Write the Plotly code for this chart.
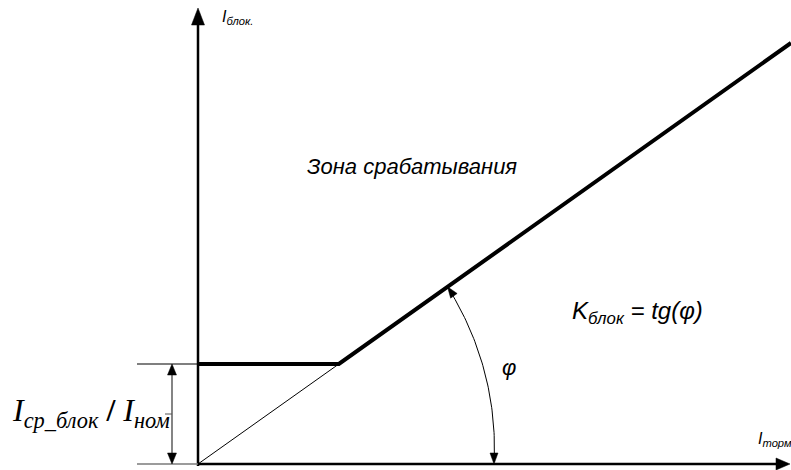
import numpy as np
import plotly.graph_objects as go

# Characteristic parameters (relative units)
pickup = 1.0          # I_ср_блок / I_ном
k_block = 0.71        # K_блок = tg(phi)
x_end = 5.93          # right end of the I_торм axis
x_break = pickup / k_block

# Axis extents (100 px per unit on both axes)
x_range = [-1.98, 5.93]
y_range = [-0.06, 4.64]

BLACK = "#000000"
GRAY = "#7a7a7a"

fig = go.Figure()


def line(xs, ys, width, color=BLACK):
    fig.add_trace(go.Scatter(x=xs, y=ys, mode="lines", hoverinfo="skip",
                             line=dict(color=color, width=width), showlegend=False))


def head(tip, direction, length, half_width, color=BLACK):
    """Filled triangular arrowhead with its tip at `tip` pointing along `direction`."""
    d = np.array(direction, float)
    d /= np.linalg.norm(d)
    n = np.array([-d[1], d[0]])
    t = np.array(tip, float)
    b = t - d * length
    p1, p2 = b + n * half_width, b - n * half_width
    fig.add_trace(go.Scatter(x=[t[0], p1[0], p2[0], t[0]], y=[t[1], p1[1], p2[1], t[1]],
                             mode="lines", fill="toself", fillcolor=color, hoverinfo="skip",
                             line=dict(color=color, width=0.5), showlegend=False))


# Coordinate axes with arrows
line([0, 0], [-0.02, 4.42], 2.5)
head((0, y_range[1] - 0.08), (0, 1), 0.17, 0.065)
line([0, x_end - 0.1], [0, 0], 2.5)
head((x_end - 0.01, 0), (1, 0), 0.14, 0.06)

# Thin ray through the origin up to the break point
line([0, x_break], [0, pickup], 1)

# Blocking characteristic: flat part, then the slope K_блок
line([0, x_break, x_end], [pickup, pickup, k_block * x_end], 4)

# Dimension for I_ср_блок / I_ном
line([-0.61, 0], [pickup, pickup], 1.2)
line([-0.61, 0], [0, 0], 1.5, GRAY)
line([-0.26, -0.26], [0.08, pickup - 0.08], 1.2, "#333333")
head((-0.26, pickup), (0, 1), 0.11, 0.045)
head((-0.26, 0), (0, -1), 0.11, 0.045)
line([-0.33, -0.26], [0.5, 0.5], 1, "#555555")

# Angle phi arc between the axis and the sloped line
phi = np.arctan(k_block)
r0, r1 = 2.96, 3.06
a = np.linspace(0.03, phi - 0.03, 60)
r = r0 + (r1 - r0) * a / phi
line(r * np.cos(a), r * np.sin(a), 1)
head((r1 * np.cos(phi), r1 * np.sin(phi)), (-np.sin(phi), np.cos(phi)), 0.11, 0.04)
head((r0, 0.0), (0, -1), 0.11, 0.04)

ital = "Liberation Sans"
annotations = [
    dict(x=0.22, y=4.47, text="<i>I<sub>блок.</sub></i>", font=dict(family=ital, size=16),
         xanchor="left"),
    dict(x=5.575, y=0.25, text="<i>I<sub>торм</sub></i>", font=dict(family=ital, size=16),
         xanchor="left"),
    dict(x=1.07, y=2.98, text="<i>Зона срабатывания</i>", font=dict(family=ital, size=22),
         xanchor="left"),
    dict(x=3.72, y=1.52, text="<i>K<sub>блок</sub> = tg(φ)</i>", font=dict(family=ital, size=24),
         xanchor="left"),
    dict(x=3.02, y=0.97, text="<i>φ</i>", font=dict(family=ital, size=22), xanchor="left"),
    dict(x=-1.88, y=0.52, text="<i>I<sub>ср_блок</sub></i> <b>/</b> <i>I<sub>ном</sub></i>",
         font=dict(family="Liberation Serif", size=32), xanchor="left"),
]
for ann in annotations:
    ann.update(xref="x", yref="y", showarrow=False, yanchor="middle", font_color=BLACK)
    fig.add_annotation(**ann)

fig.update_layout(
    width=791, height=470, autosize=False,
    margin=dict(l=0, r=0, t=0, b=0),
    paper_bgcolor="white", plot_bgcolor="white",
    xaxis=dict(range=x_range, visible=False, fixedrange=True),
    yaxis=dict(range=y_range, visible=False, fixedrange=True),
    showlegend=False,
)

fig.write_html("out.html")
